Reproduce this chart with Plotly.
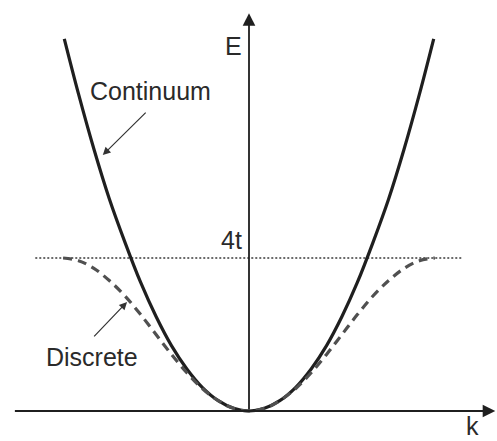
import plotly.graph_objects as go

# Wave number samples (units of 1/a) and the two dispersion branches (units of t)
k_values = [-3.12, -2.88, -2.62, -2.36, -2.09, -1.83, -1.57, -1.31, -1.05, -0.79, -0.52, -0.26,
            0.0, 0.26, 0.52, 0.79, 1.05, 1.31, 1.57, 1.83, 2.09, 2.36, 2.62, 2.88, 3.12]
e_continuum = [9.73, 8.29, 6.85, 5.55, 4.39, 3.36, 2.47, 1.71, 1.10, 0.62, 0.27, 0.07,
               0.0, 0.07, 0.27, 0.62, 1.10, 1.71, 2.47, 3.36, 4.39, 5.55, 6.85, 8.29, 9.73]

k_band = [-3.14, -2.88, -2.62, -2.36, -2.09, -1.83, -1.57, -1.31, -1.05, -0.79, -0.52, -0.26,
          0.0, 0.26, 0.52, 0.79, 1.05, 1.31, 1.57, 1.83, 2.09, 2.36, 2.62, 2.88, 3.14]
e_discrete = [4.00, 3.93, 3.73, 3.41, 3.00, 2.52, 2.00, 1.48, 1.00, 0.59, 0.27, 0.07,
              0.0, 0.07, 0.27, 0.59, 1.00, 1.48, 2.00, 2.52, 3.00, 3.41, 3.73, 3.93, 4.00]

# Band top reference line at E = 4t
band_top = 4.0
band_top_k = [-3.61, 3.61]

# Axis extents
k_axis = [-3.98, 4.16]
e_axis_top = 10.4

INK = "#1f1f1f"
FONT = dict(family="Liberation Sans, Arial, sans-serif", size=25, color="#2a2a2a")

fig = go.Figure()

fig.add_trace(go.Scatter(
    x=band_top_k, y=[band_top, band_top], mode="lines",
    line=dict(color="#3a3a3a", width=1.5, dash="2px,2px"), hoverinfo="skip"))

fig.add_trace(go.Scatter(
    x=k_values, y=e_continuum, mode="lines",
    line=dict(color=INK, width=3.2, shape="spline", smoothing=1.0), hoverinfo="skip"))

fig.add_trace(go.Scatter(
    x=k_band, y=e_discrete, mode="lines",
    line=dict(color="#505050", width=3.2, shape="spline", smoothing=1.0, dash="9px,6px"),
    hoverinfo="skip"))

annotations = [
    # horizontal k axis
    dict(x=k_axis[1], y=0, ax=k_axis[0], ay=0, axref="x", ayref="y",
         showarrow=True, arrowhead=2, arrowsize=1.4, arrowwidth=1.8, arrowcolor=INK,
         standoff=0, text=""),
    # vertical E axis
    dict(x=0, y=e_axis_top, ax=0, ay=0, axref="x", ayref="y",
         showarrow=True, arrowhead=2, arrowsize=1.4, arrowwidth=1.8, arrowcolor=INK,
         standoff=0, text=""),
    # pointer to the continuum parabola
    dict(x=-2.47, y=6.69, ax=-1.72, ay=7.84, axref="x", ayref="y",
         showarrow=True, arrowhead=2, arrowsize=1.3, arrowwidth=1.2, arrowcolor="#333333",
         standoff=0, text=""),
    # pointer to the discrete band
    dict(x=-2.06, y=2.85, ax=-2.64, ay=1.91, axref="x", ayref="y",
         showarrow=True, arrowhead=2, arrowsize=1.3, arrowwidth=1.2, arrowcolor="#333333",
         standoff=0, text=""),
    dict(x=-0.27, y=9.54, text="E", showarrow=False, font=FONT),
    dict(x=-0.30, y=4.47, text="4t", showarrow=False, font=FONT),
    dict(x=3.77, y=-0.78, yanchor="bottom", text="k", showarrow=False, font=FONT,
         borderpad=0),
    dict(x=-1.67, y=8.37, text="Continuum", showarrow=False, font=FONT),
    dict(x=-2.65, y=1.40, text="Discrete", showarrow=False, font=FONT),
]

fig.update_layout(
    width=497, height=441,
    margin=dict(l=0, r=0, t=0, b=0),
    paper_bgcolor="white", plot_bgcolor="white",
    showlegend=False,
    xaxis=dict(range=[-4.206, 4.189], visible=False, fixedrange=True),
    yaxis=dict(range=[-0.784, 10.745], visible=False, fixedrange=True),
    annotations=annotations,
)

fig.write_html("out.html")
